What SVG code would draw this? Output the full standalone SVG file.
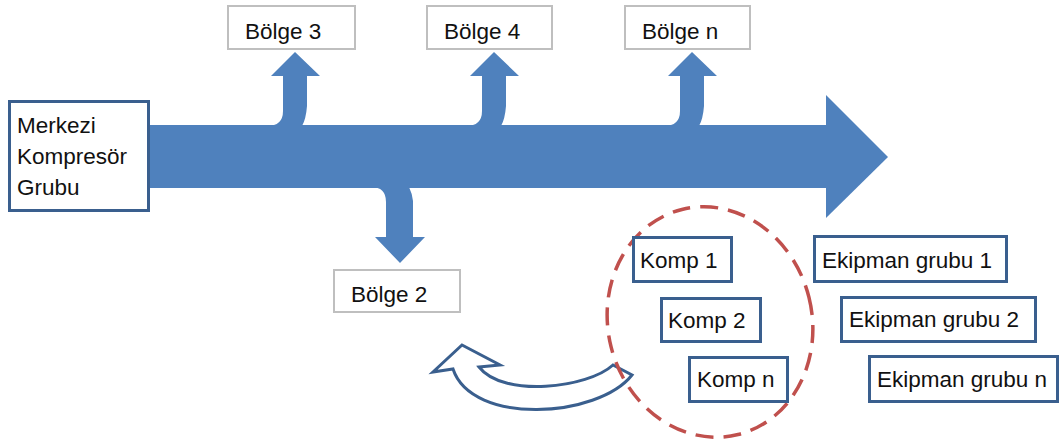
<svg xmlns="http://www.w3.org/2000/svg" width="1060" height="446" viewBox="0 0 1060 446">
  <style>
    text { font-family: "Liberation Sans", Arial, sans-serif; font-size: 22.5px; fill: #111111; }
    .blue-box { fill: #ffffff; stroke: #3a5f8e; stroke-width: 3; }
    .gray-box { fill: #ffffff; stroke: #bfbfbf; stroke-width: 2; }
    .flow { fill: #4f81bd; stroke: none; }
    .return { fill: #ffffff; stroke: #3a5f8e; stroke-width: 3; stroke-linejoin: miter; }
    .group-ring { fill: none; stroke: #c0504d; stroke-width: 3.5; stroke-dasharray: 18 10; }
  </style>

  <rect width="1060" height="446" fill="#ffffff"/>

  <!-- flow arrows: main trunk with its branches, and the return arrow -->
  <g id="connectors">
    <rect class="flow" x="150" y="125" width="677" height="63"/>
    <polygon class="flow" points="826,95 888,157 826,218"/>
    <!-- branch up to Bölge 3 -->
    <path class="flow" d="M267,126 Q283,126 283,111 L283,76 L271,76 L295,52 L320,76 L307,76 L307,106 Q306,119 302,126 Z"/>
    <!-- branch up to Bölge 4 -->
    <path class="flow" d="M466,126 Q482,126 482,111 L482,76 L470,76 L494,52 L519,76 L506,76 L506,106 Q505,119 501,126 Z"/>
    <!-- branch up to Bölge n -->
    <path class="flow" d="M664,126 Q680,126 680,111 L680,76 L668,76 L692,52 L717,76 L704,76 L704,106 Q703,119 699,126 Z"/>
    <!-- branch down to Bölge 2 -->
    <path class="flow" d="M371,187 Q386,187 386,202 L386,237 L375,237 L400,263 L425,237 L413,237 L413,201 Q412,193 409,187 Z"/>
    <!-- curved return arrow -->
    <path class="return" d="M462,345 L500,365 L479,367 C503,398 588,388 613,365 L632,375 C598,418 472,426 453,369 L433,372 Z"/>
  </g>

  <g id="node-merkezi">
    <rect class="blue-box" x="9.5" y="101.5" width="139" height="109"/>
    <text x="17" y="133">Merkezi</text>
    <text x="17" y="164">Kompresör</text>
    <text x="17" y="195">Grubu</text>
  </g>

  <g id="node-bolge3">
    <rect class="gray-box" x="228" y="6" width="127" height="43"/>
    <text x="245" y="39">Bölge 3</text>
  </g>
  <g id="node-bolge4">
    <rect class="gray-box" x="427" y="6" width="125" height="43"/>
    <text x="444" y="39">Bölge 4</text>
  </g>
  <g id="node-bolgen">
    <rect class="gray-box" x="625" y="6" width="125" height="43"/>
    <text x="642" y="39">Bölge n</text>
  </g>
  <g id="node-bolge2">
    <rect class="gray-box" x="334" y="270" width="126" height="42"/>
    <text x="351" y="302">Bölge 2</text>
  </g>

  <g id="compressor-group">
    <ellipse class="group-ring" cx="710" cy="322" rx="102" ry="116" transform="rotate(-14 710 322)"/>
  </g>

  <g id="node-komp1">
    <rect class="blue-box" x="633.5" y="237.5" width="98" height="44"/>
    <text x="640" y="268">Komp 1</text>
  </g>
  <g id="node-komp2">
    <rect class="blue-box" x="661.5" y="298.5" width="99" height="43"/>
    <text x="668" y="327.5">Komp 2</text>
  </g>
  <g id="node-kompn">
    <rect class="blue-box" x="689.5" y="357.5" width="98" height="44"/>
    <text x="697" y="387">Komp n</text>
  </g>

  <g id="node-ekipman1">
    <rect class="blue-box" x="814.5" y="236.5" width="192" height="45"/>
    <text x="822" y="268">Ekipman grubu 1</text>
  </g>
  <g id="node-ekipman2">
    <rect class="blue-box" x="841.5" y="297.5" width="194" height="44"/>
    <text x="849" y="327">Ekipman grubu 2</text>
  </g>
  <g id="node-ekipmann">
    <rect class="blue-box" x="869.5" y="356.5" width="188" height="45"/>
    <text x="877" y="387">Ekipman grubu n</text>
  </g>
</svg>
